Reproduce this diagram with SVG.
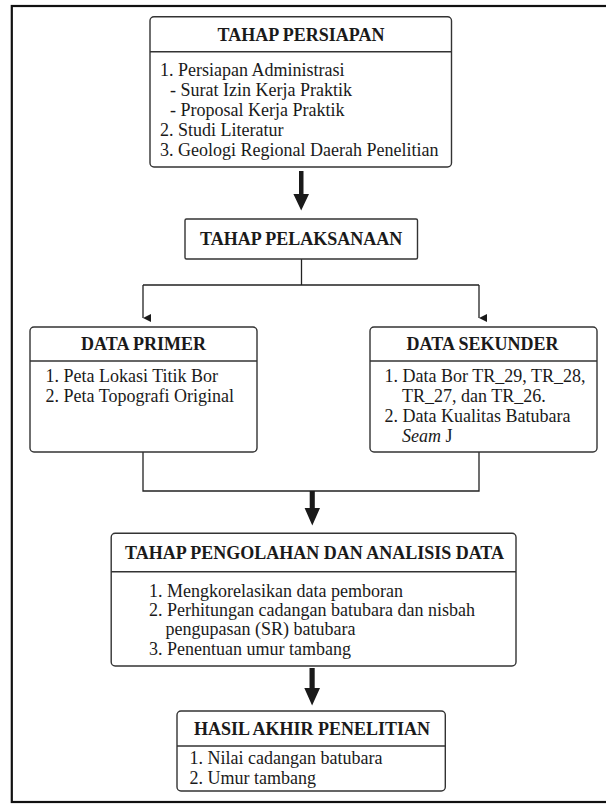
<svg xmlns="http://www.w3.org/2000/svg" width="606" height="804" viewBox="0 0 606 804">
<style>
.box{fill:#fff;stroke:#333;stroke-width:1.4}
.div{stroke:#333;stroke-width:1.4}
.h{font-family:"Liberation Serif","Times New Roman",serif;font-weight:bold;font-size:18px;fill:#1a1a1a;text-anchor:middle}
.t{font-family:"Liberation Serif","Times New Roman",serif;font-size:18px;fill:#1a1a1a}
.ln{fill:none;stroke:#222;stroke-width:1.3}
.big{fill:#1a1a1a}
</style>
<defs>
<marker id="ah" markerWidth="8" markerHeight="8" refX="4" refY="8" orient="auto-start-reverse" markerUnits="userSpaceOnUse" viewBox="0 0 8 8">
<path d="M0,0 L8,0 L4,8 Z" fill="#1a1a1a"/>
</marker>
</defs>
<rect x="0" y="0" width="606" height="804" fill="#fff"/>
<rect x="11.8" y="6" width="596" height="796" fill="none" stroke="#111" stroke-width="2.2"/>

<g id="connectors">
<polygon class="big" points="299,171 303.5,171 303.5,194 309,194 301.2,210.5 293.4,194 299,194"/>
<path class="ln" d="M301.5,259 V285 M143,285 H479"/>
<path class="ln" d="M143,285 V318" marker-end="url(#ah)"/>
<path class="ln" d="M479,285 V318" marker-end="url(#ah)"/>
<path class="ln" d="M143,452 V491 H479 V452"/>
<polygon class="big" points="309.7,491 314.8,491 314.8,508 320,508 312.3,525.5 304.6,508 309.7,508"/>
<polygon class="big" points="309.5,668 314.7,668 314.7,688 320,688 312.1,705.5 304.3,688 309.5,688"/>
</g>

<g id="persiapan">
<rect class="box" x="150" y="16.7" width="301.5" height="150.3" rx="4"/>
<line class="div" x1="150" y1="51.7" x2="451.5" y2="51.7"/>
<text class="h" x="301" y="40.5">TAHAP PERSIAPAN</text>
<text class="t" x="160" y="76">1. Persiapan Administrasi</text>
<text class="t" x="170" y="96">- Surat Izin Kerja Praktik</text>
<text class="t" x="170" y="116">- Proposal Kerja Praktik</text>
<text class="t" x="160" y="136">2. Studi Literatur</text>
<text class="t" x="160" y="156">3. Geologi Regional Daerah Penelitian</text>
</g>

<g id="pelaksanaan">
<rect class="box" x="185" y="219" width="232.5" height="40" rx="1.5"/>
<text class="h" x="301.2" y="245">TAHAP PELAKSANAAN</text>
</g>

<g id="primer">
<rect class="box" x="30" y="327" width="227" height="125" rx="4"/>
<line class="div" x1="30" y1="361" x2="257" y2="361"/>
<text class="h" x="143.5" y="350">DATA PRIMER</text>
<text class="t" x="45.6" y="382">1. Peta Lokasi Titik Bor</text>
<text class="t" x="45.6" y="402">2. Peta Topografi Original</text>
</g>

<g id="sekunder">
<rect class="box" x="370" y="327" width="227" height="125" rx="4"/>
<line class="div" x1="370" y1="361" x2="597" y2="361"/>
<text class="h" x="482.5" y="350">DATA SEKUNDER</text>
<text class="t" x="384.6" y="382">1. Data Bor TR_29, TR_28,</text>
<text class="t" x="402" y="402">TR_27, dan TR_26.</text>
<text class="t" x="384.6" y="422">2. Data Kualitas Batubara</text>
<text class="t" x="402" y="442"><tspan font-style="italic">Seam</tspan> J</text>
</g>

<g id="pengolahan">
<rect class="box" x="111.2" y="533.3" width="404.8" height="132.7" rx="4"/>
<line class="div" x1="111.2" y1="571.7" x2="516" y2="571.7"/>
<text class="h" x="314.5" y="558.5">TAHAP PENGOLAHAN DAN ANALISIS DATA</text>
<text class="t" x="149" y="597">1. Mengkorelasikan data pemboran</text>
<text class="t" x="149" y="616">2. Perhitungan cadangan batubara dan nisbah</text>
<text class="t" x="165.5" y="635">pengupasan (SR) batubara</text>
<text class="t" x="149" y="655">3. Penentuan umur tambang</text>
</g>

<g id="hasil">
<rect class="box" x="177" y="711" width="268.3" height="80" rx="4"/>
<line class="div" x1="177" y1="746" x2="445.3" y2="746"/>
<text class="h" x="312" y="735">HASIL AKHIR PENELITIAN</text>
<text class="t" x="189.5" y="764">1. Nilai cadangan batubara</text>
<text class="t" x="189.5" y="784">2. Umur tambang</text>
</g>
</svg>
